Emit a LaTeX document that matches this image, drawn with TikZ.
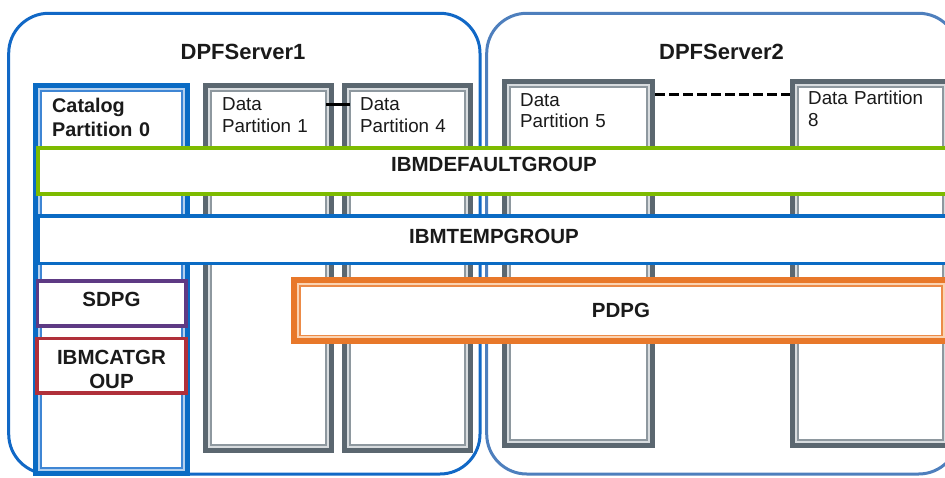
\documentclass[tikz,border=0pt]{standalone}
\usepackage{fontspec}
\setmainfont{Liberation Sans}
\usetikzlibrary{calc}
\definecolor{srvone}{HTML}{1168C6}
\definecolor{srvtwo}{HTML}{4E7FBD}
\definecolor{catblue}{HTML}{0A6BC4}
\definecolor{catpale}{HTML}{B4D0EE}
\definecolor{catthin}{HTML}{3F86D4}
\definecolor{dpgray}{HTML}{5B6770}
\definecolor{dppale}{HTML}{D8DCDF}
\definecolor{dpthin}{HTML}{8E989F}
\definecolor{grpgreen}{HTML}{7DBB00}
\definecolor{tmpblue}{HTML}{0A6BC4}
\definecolor{sdpgpurple}{HTML}{5E3A84}
\definecolor{catred}{HTML}{B0303A}
\definecolor{pdorange}{HTML}{E8782A}
\definecolor{pdpale}{HTML}{FAD3B3}
\definecolor{pdthin}{HTML}{EC8B48}
\definecolor{txt}{HTML}{1A1A1A}
\begin{document}
\begin{tikzpicture}[x=1pt,y=-1pt,
  server/.style={rectangle, inner sep=0pt, outer sep=0pt, line width=3pt, rounded corners=40pt},
  title/.style={inner sep=0pt, text=txt, anchor=base, font=\fontsize{22}{26}\selectfont\bfseries},
  frame/.style n args={4}{rectangle, inner sep=0pt, outer sep=0pt, fill=white,
     preaction={draw=#1, line width=#4},
     preaction={draw=#2, line width=6pt},
     draw=#3},
  dpframe/.style={frame={dpgray}{dppale}{dpthin}{16pt}, line width=1.8pt},
  catframe/.style={frame={catblue}{catpale}{catthin}{16pt}, line width=1.8pt},
  pdframe/.style={frame={pdorange}{pdpale}{pdthin}{18pt}, line width=1.6pt},
  grp/.style={rectangle, inner sep=0pt, outer sep=0pt, fill=white, line width=3.5pt},
  plabel/.style={inner sep=0pt, text=txt, anchor=base west, text width=140pt, align=left,
     font=\fontsize{18.8}{22}\selectfont},
  glabel/.style={inner sep=0pt, text=txt, anchor=base, font=\fontsize{20.5}{24}\selectfont\bfseries},
  link/.style={draw=black, line width=3pt},
  dashlink/.style={draw=black, line width=3pt, dash pattern=on 10pt off 4pt}
]
\useasboundingbox (0,0) rectangle (945,478);
\clip (0,0) rectangle (945,478);

% servers
\node[server, draw=srvone, minimum width=471.3pt, minimum height=460.7pt] (s1) at (244.35,243.65) {};
\node[server, draw=srvtwo, minimum width=472pt, minimum height=460.7pt] (s2) at (722.7,243.65) {};
\node[title] (s1t) at (243,60) {DPFServer1};
\node[title] (s2t) at (721.5,60) {DPFServer2};

% partition boxes
\node[catframe, minimum width=141.3pt, minimum height=377.3pt] (cat) at (111.35,279.35) {};
\node[dpframe, minimum width=115pt, minimum height=354pt] (dp1) at (268.5,268) {};
\node[dpframe, minimum width=115.6pt, minimum height=354pt] (dp4) at (407.5,268) {};
\node[dpframe, minimum width=137.3pt, minimum height=353.3pt] (dp5) at (578.35,263.35) {};
\node[dpframe, minimum width=145pt, minimum height=353.3pt] (dp8) at (870.5,263.35) {};

% connectors between partitions
\draw[link] ($(dp1.north east)+(0,14)$) -- ($(dp4.north west)+(0,14)$);
\draw[dashlink] ($(dp5.north east)+(8,8.3)$) -- ($(dp8.north west)+(-8,8.3)$);

% partition labels
\node[plabel, font=\fontsize{19.8}{24}\selectfont\bfseries] (catl) at (52,113) {Catalog\\Partition 0};
\node[plabel] (dp1l) at (222,111) {Data\\Partition 1};
\node[plabel] (dp4l) at (360,111) {Data\\Partition 4};
\node[plabel, font=\fontsize{18.8}{21}\selectfont] (dp5l) at (520,107) {Data\\Partition 5};
\node[plabel] (dp8l) at (808,105) {Data Partition\\8};

% groups
\node[grp, draw=grpgreen, line width=4pt, minimum width=927pt, minimum height=46pt] (gdef) at (501.5,171) {};
\node[grp, draw=tmpblue, minimum width=927pt, minimum height=47.5pt] (gtmp) at (501.5,239.75) {};
\node[grp, draw=sdpgpurple, minimum width=148.5pt, minimum height=45pt] (gsd) at (111.75,303.5) {};
\node[grp, draw=catred, minimum width=149pt, minimum height=54.5pt] (gcat) at (111.5,365.75) {};
\node[pdframe, minimum width=642pt, minimum height=49pt] (gpd) at (621,310.8) {};

\node[glabel] (gdefl) at (494,172) {IBMDEFAULTGROUP};
\node[glabel] (gtmpl) at (494,243.5) {IBMTEMPGROUP};
\node[glabel] (gsdl) at (111.5,307) {SDPG};
\node[glabel, text width=140pt, align=center] (gcatl) at (111.5,364) {IBMCATGR\\OUP};
\node[glabel] (gpdl) at (621,318) {PDPG};
\end{tikzpicture}
\end{document}
